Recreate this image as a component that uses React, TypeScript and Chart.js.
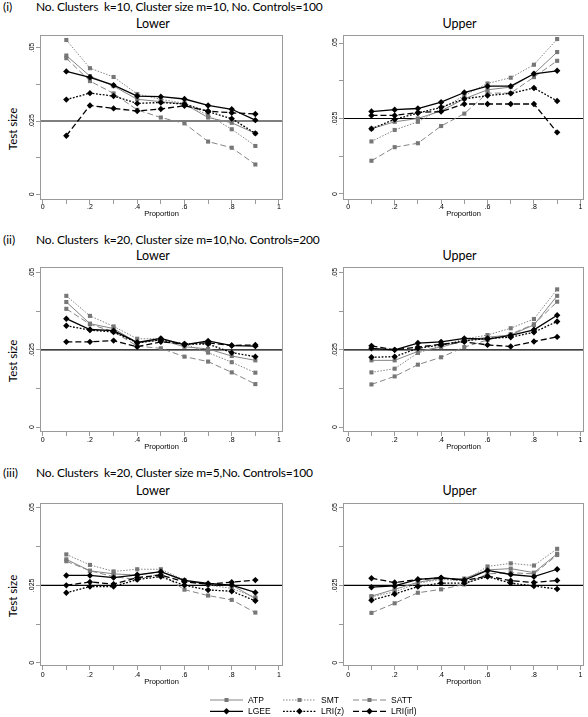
import React, { useEffect, useRef } from 'react';
import { Chart, registerables } from 'chart.js';

Chart.register(...registerables);

// ---------- data ----------
const PROPORTION = [0.1, 0.2, 0.3, 0.4, 0.5, 0.6, 0.7, 0.8, 0.9];
const X_TICKS = [0, 0.1, 0.2, 0.3, 0.4, 0.5, 0.6, 0.7, 0.8, 0.9, 1];
const X_LABELLED = [0, 0.2, 0.4, 0.6, 0.8, 1];
const Y_TICKS = [0, 0.0125, 0.025, 0.0375, 0.05];
const Y_LABELLED = [0, 0.025, 0.05];
const NOMINAL_SIZE = 0.025;
const SERIES_NAMES = ['ATP', 'SMT', 'SATT', 'LGEE', 'LRI(z)', 'LRI(irl)'];

const ROW_LABELS = ['(i)', '(ii)', '(iii)'];
const ROW_TITLES = [
  'No. Clusters  k=10, Cluster size m=10, No. Controls=100',
  'No. Clusters  k=20, Cluster size m=10,No. Controls=200',
  'No. Clusters  k=20, Cluster size m=5,No. Controls=100',
];
const PANEL_TITLES = ['Lower', 'Upper'];

// (i) k=10, m=10 — Lower
const I_LOWER_ATP = [0.0473, 0.0403, 0.0369, 0.0324, 0.0316, 0.0308, 0.0262, 0.0244, 0.0208];
const I_LOWER_SMT = [0.0526, 0.043, 0.04, 0.0342, 0.0324, 0.031, 0.027, 0.0222, 0.0165];
const I_LOWER_SATT = [0.0464, 0.0386, 0.0344, 0.0288, 0.0262, 0.0242, 0.018, 0.0159, 0.0102];
const I_LOWER_LGEE = [0.0419, 0.0399, 0.0372, 0.0335, 0.0333, 0.0325, 0.0303, 0.029, 0.0253];
const I_LOWER_LRIZ = [0.0323, 0.0345, 0.0335, 0.031, 0.0313, 0.0308, 0.0282, 0.0258, 0.0208];
const I_LOWER_LRIIRL = [0.02, 0.0303, 0.0293, 0.0284, 0.0291, 0.0302, 0.0284, 0.0278, 0.0274];
// (i) — Upper
const I_UPPER_ATP = [0.0216, 0.0239, 0.025, 0.0275, 0.0315, 0.0345, 0.0354, 0.0398, 0.047];
const I_UPPER_SMT = [0.0174, 0.0212, 0.0239, 0.0282, 0.0326, 0.0366, 0.0385, 0.0428, 0.0513];
const I_UPPER_SATT = [0.011, 0.0155, 0.0168, 0.0225, 0.0266, 0.0334, 0.0334, 0.0387, 0.0441];
const I_UPPER_LGEE = [0.0273, 0.0279, 0.0283, 0.0304, 0.0336, 0.0357, 0.0357, 0.0398, 0.0408];
const I_UPPER_LRIZ = [0.0216, 0.0247, 0.0268, 0.0287, 0.0315, 0.0326, 0.0333, 0.0351, 0.0308];
const I_UPPER_LRIIRL = [0.026, 0.026, 0.027, 0.0273, 0.0298, 0.0298, 0.0298, 0.0298, 0.0204];
// (ii) k=20, m=10 — Lower
const II_LOWER_ATP = [0.0405, 0.0335, 0.0319, 0.0273, 0.0282, 0.026, 0.0253, 0.023, 0.0216];
const II_LOWER_SMT = [0.0425, 0.036, 0.0326, 0.0286, 0.0286, 0.0269, 0.0241, 0.021, 0.0176];
const II_LOWER_SATT = [0.0383, 0.0333, 0.0309, 0.0262, 0.0255, 0.0228, 0.0212, 0.0177, 0.0139];
const II_LOWER_LGEE = [0.0351, 0.0316, 0.0312, 0.0274, 0.0287, 0.0266, 0.0279, 0.0264, 0.0262];
const II_LOWER_LRIZ = [0.0328, 0.0314, 0.0308, 0.0273, 0.0282, 0.0269, 0.0269, 0.0241, 0.0228];
const II_LOWER_LRIIRL = [0.0276, 0.0276, 0.028, 0.026, 0.0276, 0.0269, 0.0273, 0.0264, 0.0266];
// (ii) — Upper
const II_UPPER_ATP = [0.0216, 0.0216, 0.0245, 0.0259, 0.0279, 0.0291, 0.0298, 0.0331, 0.0425];
const II_UPPER_SMT = [0.0177, 0.0189, 0.024, 0.0263, 0.0285, 0.0298, 0.032, 0.035, 0.0446];
const II_UPPER_SATT = [0.0138, 0.0164, 0.0202, 0.0226, 0.0259, 0.0282, 0.0301, 0.0333, 0.0406];
const II_UPPER_LGEE = [0.0255, 0.025, 0.0272, 0.0276, 0.0287, 0.0285, 0.0297, 0.0315, 0.0362];
const II_UPPER_LRIZ = [0.0226, 0.0228, 0.0255, 0.0266, 0.0279, 0.0287, 0.0291, 0.0307, 0.0342];
const II_UPPER_LRIIRL = [0.0263, 0.025, 0.0259, 0.0268, 0.0276, 0.0266, 0.0261, 0.0277, 0.0292];
// (iii) k=20, m=5 — Lower
const III_LOWER_ATP = [0.0334, 0.0297, 0.0287, 0.0283, 0.0294, 0.0264, 0.0254, 0.0251, 0.0207];
const III_LOWER_SMT = [0.035, 0.0316, 0.0295, 0.0302, 0.0302, 0.0267, 0.0251, 0.024, 0.0211];
const III_LOWER_SATT = [0.0328, 0.0297, 0.0278, 0.0269, 0.0287, 0.0236, 0.0217, 0.0203, 0.0162];
const III_LOWER_LGEE = [0.0282, 0.0282, 0.0275, 0.0284, 0.0294, 0.0266, 0.0256, 0.0251, 0.0227];
const III_LOWER_LRIZ = [0.0226, 0.0246, 0.0246, 0.0269, 0.0278, 0.025, 0.0235, 0.0231, 0.02];
const III_LOWER_LRIIRL = [0.025, 0.0261, 0.0254, 0.0275, 0.0283, 0.0261, 0.0254, 0.026, 0.0267];
// (iii) — Upper
const III_UPPER_ATP = [0.0215, 0.0237, 0.026, 0.0272, 0.0272, 0.03, 0.0304, 0.0291, 0.0352];
const III_UPPER_SMT = [0.0213, 0.0229, 0.0257, 0.0269, 0.0265, 0.0311, 0.0321, 0.0314, 0.0368];
const III_UPPER_SATT = [0.0161, 0.0192, 0.0226, 0.0237, 0.0253, 0.0287, 0.0291, 0.0287, 0.0348];
const III_UPPER_LGEE = [0.0244, 0.0248, 0.0269, 0.0275, 0.0267, 0.0298, 0.0285, 0.0278, 0.0302];
const III_UPPER_LRIZ = [0.0202, 0.0222, 0.0246, 0.0257, 0.0257, 0.0278, 0.0257, 0.0248, 0.0238];
const III_UPPER_LRIIRL = [0.0273, 0.0259, 0.0269, 0.0274, 0.0265, 0.028, 0.0265, 0.0259, 0.0266];

const PANEL_SERIES = [
  [I_LOWER_ATP, I_LOWER_SMT, I_LOWER_SATT, I_LOWER_LGEE, I_LOWER_LRIZ, I_LOWER_LRIIRL],
  [I_UPPER_ATP, I_UPPER_SMT, I_UPPER_SATT, I_UPPER_LGEE, I_UPPER_LRIZ, I_UPPER_LRIIRL],
  [II_LOWER_ATP, II_LOWER_SMT, II_LOWER_SATT, II_LOWER_LGEE, II_LOWER_LRIZ, II_LOWER_LRIIRL],
  [II_UPPER_ATP, II_UPPER_SMT, II_UPPER_SATT, II_UPPER_LGEE, II_UPPER_LRIZ, II_UPPER_LRIIRL],
  [III_LOWER_ATP, III_LOWER_SMT, III_LOWER_SATT, III_LOWER_LGEE, III_LOWER_LRIZ, III_LOWER_LRIIRL],
  [III_UPPER_ATP, III_UPPER_SMT, III_UPPER_SATT, III_UPPER_LGEE, III_UPPER_LRIZ, III_UPPER_LRIIRL],
];

// ---------- styles ----------
const GRAY = '#858585';
const GRAY_MARK = '#777777';
const BLACK = '#000000';
const FRAME = '#9a9a9a';
const TITLE_FONT = 'Lato, "Open Sans", sans-serif';
const AXIS_FONT = '"Liberation Sans", Arial, sans-serif';

const SERIES_STYLE = [
  { color: GRAY, mark: GRAY_MARK, dash: [], point: 'rect', r: 2.9, w: 1 },
  { color: GRAY, mark: GRAY_MARK, dash: [1.5, 1.5], point: 'rect', r: 2.9, w: 1 },
  { color: GRAY, mark: GRAY_MARK, dash: [6, 3], point: 'rect', r: 2.9, w: 1 },
  { color: BLACK, mark: BLACK, dash: [], point: 'rectRot', r: 3.2, w: 1.3 },
  { color: BLACK, mark: BLACK, dash: [1.8, 1.6], point: 'rectRot', r: 3.2, w: 1.3 },
  { color: BLACK, mark: BLACK, dash: [6, 3], point: 'rectRot', r: 3.2, w: 1.3 },
];

const ROWS = [
  { frameTop: 35, frameBottom: 200, titleY: 6.5, panelTitleY: 24, tickPad: -1, titlePad: 4 },
  { frameTop: 267, frameBottom: 432, titleY: 240, panelTitleY: 256, tickPad: 0, titlePad: 2.5 },
  { frameTop: 503, frameBottom: 666, titleY: 473.3, panelTitleY: 490.7, tickPad: 1, titlePad: 1.5 },
];
const COLS = [
  { left: 0, width: 290, axisW: 40, padRight: 7, xMin: -0.0114, xMax: 1.017, titleX: 153 },
  { left: 290, width: 298, axisW: 53, padRight: 1, xMin: -0.0226, xMax: 1.0157, titleX: 459.5 },
];
const Y_RANGES = [
  [-0.0019, 0.0543],
  [-0.002, 0.05265],
  [-0.00162, 0.05185],
  [-0.00162, 0.05185],
  [-0.00107, 0.05161],
  [-0.00107, 0.05161],
];
const X_AXIS_H = 22;

const fmt = (v: number) => {
  if (v === 0) return '0';
  if (v === 1) return '1';
  return String(+v.toFixed(4)).replace(/^0\./, '.');
};
const near = (v: number, list: number[]) => list.some((t) => Math.abs(t - v) < 1e-9);

const framePlugin = {
  id: 'frameRef',
  beforeDatasetsDraw(chart: any) {
    const { ctx, chartArea, scales } = chart;
    const py = scales.y.getPixelForValue(NOMINAL_SIZE);
    ctx.save();
    ctx.strokeStyle = BLACK;
    ctx.lineWidth = 1.2;
    ctx.beginPath();
    ctx.moveTo(chartArea.left, py);
    ctx.lineTo(chartArea.right, py);
    ctx.stroke();
    ctx.restore();
  },
  afterDraw(chart: any) {
    const { ctx, chartArea } = chart;
    ctx.save();
    ctx.strokeStyle = FRAME;
    ctx.lineWidth = 1;
    ctx.strokeRect(
      Math.round(chartArea.left) + 0.5,
      Math.round(chartArea.top) + 0.5,
      Math.round(chartArea.right - chartArea.left) - 1,
      Math.round(chartArea.bottom - chartArea.top) - 1
    );
    ctx.restore();
  },
};

type PanelProps = { index: number };

function Panel({ index }: PanelProps) {
  const ref = useRef<HTMLCanvasElement | null>(null);
  const row = ROWS[Math.floor(index / 2)];
  const col = COLS[index % 2];
  const top = row.frameTop - 5;
  const height = row.frameBottom - top + X_AXIS_H;

  useEffect(() => {
    if (!ref.current) return;
    const series = PANEL_SERIES[index];
    const [yMin, yMax] = Y_RANGES[index];
    const datasets = series.map((vals, i) => {
      const s = SERIES_STYLE[i];
      return {
        label: SERIES_NAMES[i],
        data: PROPORTION.map((p, j) => ({ x: p, y: vals[j] })),
        borderColor: s.color,
        borderWidth: s.w,
        borderDash: s.dash,
        pointStyle: s.point,
        pointRadius: s.r,
        pointBorderWidth: 0,
        pointBackgroundColor: s.mark,
        pointBorderColor: s.mark,
        tension: 0,
        fill: false,
        order: 5 - i,
      };
    });
    const chart = new Chart(ref.current, {
      type: 'line',
      data: { datasets } as any,
      plugins: [framePlugin],
      options: {
        animation: false,
        responsive: false,
        maintainAspectRatio: false,
        events: [],
        layout: { padding: { left: 0, right: col.padRight, top: 5, bottom: 0 } },
        plugins: { legend: { display: false }, tooltip: { enabled: false }, title: { display: false } },
        scales: {
          x: {
            type: 'linear',
            min: col.xMin,
            max: col.xMax,
            afterBuildTicks: (axis: any) => {
              axis.ticks = X_TICKS.map((v) => ({ value: v }));
            },
            afterFit: (axis: any) => {
              axis.height = X_AXIS_H;
            },
            ticks: {
              autoSkip: false,
              maxRotation: 0,
              minRotation: 0,
              padding: row.tickPad,
              color: '#000',
              font: { family: AXIS_FONT, size: 7 },
              callback: (v: any) => (near(Number(v), X_LABELLED) ? fmt(Number(v)) : ''),
            },
            grid: { drawOnChartArea: false, drawTicks: true, tickLength: 4, color: FRAME },
            border: { display: false },
            title: {
              display: true,
              text: 'Proportion',
              color: '#000',
              font: { family: AXIS_FONT, size: 7.5 },
              padding: { top: 0, bottom: row.titlePad },
            },
          },
          y: {
            type: 'linear',
            min: yMin,
            max: yMax,
            afterBuildTicks: (axis: any) => {
              axis.ticks = Y_TICKS.map((v) => ({ value: v }));
            },
            afterFit: (axis: any) => {
              axis.width = col.axisW;
            },
            ticks: {
              autoSkip: false,
              minRotation: 90,
              maxRotation: 90,
              crossAlign: 'center',
              padding: -2.5,
              color: '#000',
              font: { family: AXIS_FONT, size: 7 },
              callback: (v: any) => (near(Number(v), Y_LABELLED) ? fmt(Number(v)) : ''),
            },
            grid: { drawOnChartArea: false, drawTicks: true, tickLength: 4, color: FRAME },
            border: { display: false },
          },
        },
      } as any,
    });
    return () => chart.destroy();
  }, [index]);

  return (
    <canvas
      ref={ref}
      width={col.width}
      height={height}
      style={{ position: 'absolute', left: col.left, top, width: col.width, height }}
    />
  );
}

function Text({ x, y, text, size, family, align = 'left', rotate = false, weight = 400, spacing = 0 }: any) {
  const tx = align === 'center' ? '-50%' : '0';
  return (
    <div
      style={{
        position: 'absolute',
        left: x,
        top: y,
        transform: `translate(${tx}, -50%)${rotate ? ' rotate(-90deg)' : ''}`,
        fontFamily: family,
        fontSize: size,
        fontWeight: weight,
        letterSpacing: spacing,
        lineHeight: `${Math.round(size * 1.3)}px`,
        whiteSpace: 'pre',
        color: '#000',
      }}
    >
      {text}
    </div>
  );
}

function Legend() {
  const lineX = [210, 283, 353];
  const rowsY = [700, 711.3];
  return (
    <svg
      width={588}
      height={717}
      style={{ position: 'absolute', left: 0, top: 0, pointerEvents: 'none' }}
    >
      {SERIES_NAMES.map((name, i) => {
        const s = SERIES_STYLE[i];
        const c = i % 3;
        const r = Math.floor(i / 3);
        const x1 = lineX[c];
        const x2 = x1 + 33;
        const y = rowsY[r];
        const mx = (x1 + x2) / 2;
        return (
          <g key={name}>
            <line
              x1={x1}
              x2={x2}
              y1={y}
              y2={y}
              stroke={s.color}
              strokeWidth={s.w}
              strokeDasharray={s.dash.length ? s.dash.join(' ') : undefined}
            />
            {s.point === 'rect' ? (
              <rect x={mx - 2} y={y - 2} width={4} height={4} fill={s.mark} />
            ) : (
              <polygon
                points={`${mx - 3.2},${y} ${mx},${y - 3.2} ${mx + 3.2},${y} ${mx},${y + 3.2}`}
                fill={s.mark}
              />
            )}
            <text
              x={x2 + 5}
              y={y}
              dominantBaseline="central"
              fontFamily={AXIS_FONT}
              fontSize={8.5}
              fill="#000"
            >
              {name}
            </text>
          </g>
        );
      })}
    </svg>
  );
}

export default function App() {
  return (
    <div
      style={{
        position: 'absolute',
        left: 0,
        top: 0,
        width: 588,
        height: 717,
        background: '#fff',
        overflow: 'hidden',
      }}
    >
      {ROWS.map((row, r) => (
        <React.Fragment key={r}>
          <Text x={3} y={row.titleY} text={ROW_LABELS[r]} size={12} family={TITLE_FONT} />
          <Text x={36} y={row.titleY} text={ROW_TITLES[r]} size={12} spacing={-0.2} family={TITLE_FONT} />
          {COLS.map((col, c) => (
            <Text
              key={c}
              x={col.titleX}
              y={row.panelTitleY}
              text={PANEL_TITLES[c]}
              size={12.5}
              family={TITLE_FONT}
              align="center"
            />
          ))}
          <Text
            x={11.7}
            y={(row.frameTop + row.frameBottom) / 2 + 11}
            text="Test size"
            size={11.5}
            family={TITLE_FONT}
            align="center"
            rotate
          />
        </React.Fragment>
      ))}
      {[0, 1, 2, 3, 4, 5].map((i) => (
        <Panel key={i} index={i} />
      ))}
      <Legend />
    </div>
  );
}
